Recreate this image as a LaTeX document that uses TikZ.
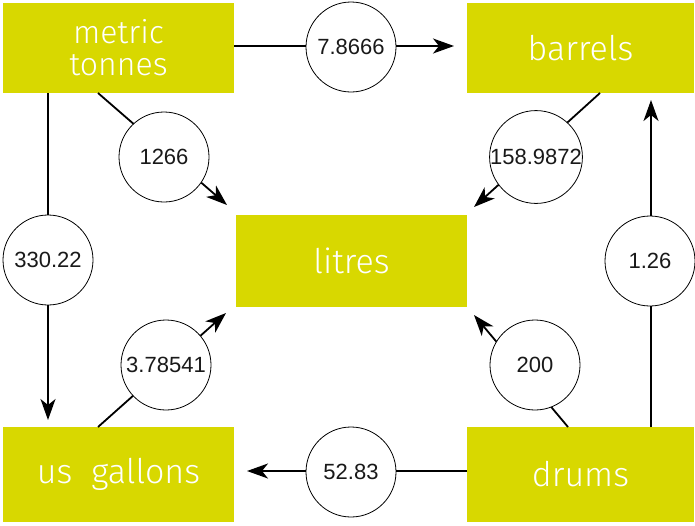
\documentclass[tikz,border=0pt]{standalone}
\usepackage{fontspec}
\setmainfont{Liberation Sans}
\newfontfamily\boxfont{Fira Sans}[UprightFont={* Light}]
\usetikzlibrary{arrows.meta}
\definecolor{boxyellow}{RGB}{216,216,0}
\tikzset{
  unitbox/.style={fill=boxyellow, draw=none, text=white, font=\boxfont\fontsize{34}{30}\selectfont, align=center, inner sep=0pt},
  ratio/.style={circle, draw=black, line width=0.8pt, fill=white, minimum size=90pt, inner sep=0pt, font=\fontsize{22}{22}\selectfont, text=black!90},
  conv/.style={line width=1.8pt, -{Stealth[length=21pt,width=15pt,inset=6pt]}}
}
\begin{document}
\begin{tikzpicture}[x=1pt,y=-1pt]
\useasboundingbox (0,0) rectangle (695,525);
% boxes
\node[unitbox, minimum width=231pt, minimum height=90pt, font=\boxfont\fontsize{32}{32}\selectfont] (mt) at (118.5,48) {metric\\tonnes};
\node[unitbox, minimum width=227pt, minimum height=90pt] (bar) at (580.5,48) {barrels};
\node[unitbox, minimum width=231pt, minimum height=92pt] (lit) at (351.5,261) {litres};
\node[unitbox, minimum width=231pt, minimum height=95pt] (usg) at (118.5,474.5) {us\ \ gallons};
\node[unitbox, minimum width=227pt, minimum height=95pt] (dr) at (580.5,474.5) {drums};
% connector anchor points
\coordinate (mtE) at (234,46);
\coordinate (mtB1) at (48,93);
\coordinate (mtB2) at (98,93);
\coordinate (barB) at (600,93);
\coordinate (usgT1) at (98,427);
\coordinate (drT1) at (568,427);
\coordinate (drT2) at (651,427);
\coordinate (drW) at (467,471);
% tips
\coordinate (tBar) at (454,46);
\coordinate (tLitNW) at (227,205);
\coordinate (tLitNE) at (474,207);
\coordinate (tUsg) at (48,420);
\coordinate (tBarS) at (651,100);
\coordinate (tLitSW) at (226,313);
\coordinate (tLitSE) at (474,315);
\coordinate (tUsgE) at (247,471);
% connectors
\draw[conv] (mtE) -- (tBar);
\draw[conv] (mtB2) -- (tLitNW);
\draw[conv] (barB) -- (tLitNE);
\draw[conv] (mtB1) -- (tUsg);
\draw[conv] (drT2) -- (tBarS);
\draw[conv] (usgT1) -- (tLitSW);
\draw[conv] (drT1) -- (tLitSE);
\draw[conv] (drW) -- (tUsgE);
% ratio labels
\node[ratio] (r1) at (351,47) {7.8666};
\node[ratio] (r2) at (164,157) {1266};
\node[ratio] (r3) at (536,157) {158.9872};
\node[ratio] (r4) at (48,260) {330.22};
\node[ratio] (r5) at (650,261) {1.26};
\node[ratio] (r6) at (166,365) {3.78541};
\node[ratio] (r7) at (535,365) {200};
\node[ratio] (r8) at (351,472) {52.83};
\end{tikzpicture}
\end{document}
